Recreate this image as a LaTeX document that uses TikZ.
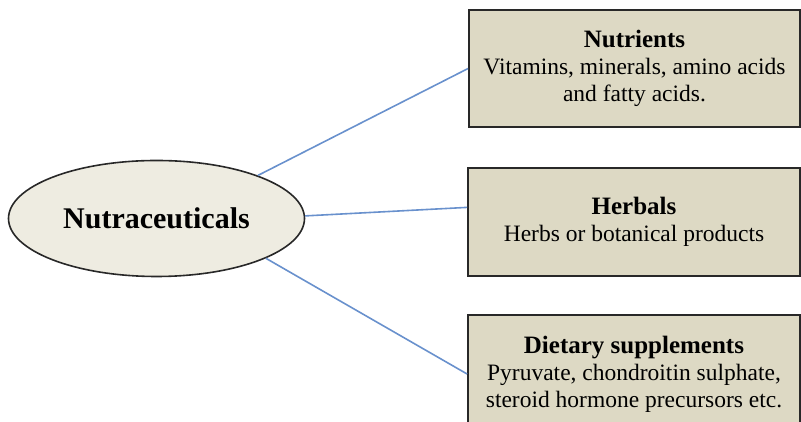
\documentclass[tikz,border=0pt]{standalone}
\usepackage{fontspec}
\setmainfont{Liberation Serif}
\usetikzlibrary{shapes.geometric}
\definecolor{ellfill}{RGB}{238,236,225}
\definecolor{boxfill}{RGB}{221,217,196}
\definecolor{edge}{RGB}{40,40,40}
\definecolor{link}{RGB}{105,145,205}
\newcommand{\cathead}[1]{{\fontsize{25}{29}\selectfont\bfseries #1}}
\tikzset{
  hub/.style={ellipse, draw=edge, line width=1.6pt, fill=ellfill, inner sep=0pt,
    minimum width=296pt, minimum height=116pt,
    font=\fontsize{30}{34}\selectfont\bfseries},
  catbox/.style={rectangle, draw=edge, line width=1.8pt, fill=boxfill, inner sep=0pt,
    align=center, font=\fontsize{23.5}{27}\selectfont},
  connector/.style={draw=link, line width=1.6pt}
}
\begin{document}
\begin{tikzpicture}[x=1pt,y=1pt]
\useasboundingbox (0,0) rectangle (801,422);
\clip (0,0) rectangle (801,422);
\node[hub] (e) at (156.5,203.5) {Nutraceuticals};
\node[catbox, minimum width=331pt, minimum height=117pt] (nut) at (634.5,353.5)
  {\cathead{Nutrients}\\Vitamins, minerals, amino acids\\and fatty acids.};
\node[catbox, minimum width=332pt, minimum height=108pt] (herb) at (634,200)
  {\cathead{Herbals}\\Herbs or botanical products};
\node[catbox, minimum width=332pt, minimum height=118pt] (diet) at (634,48)
  {\cathead{Dietary supplements}\\Pyruvate, chondroitin sulphate,\\steroid hormone precursors etc.};
\draw[connector] (e.23) -- (nut.west);
\draw[connector] (e.1) -- (herb.175.2);
\draw[connector] (e.-20.5) -- (diet.west);
\end{tikzpicture}
\end{document}
